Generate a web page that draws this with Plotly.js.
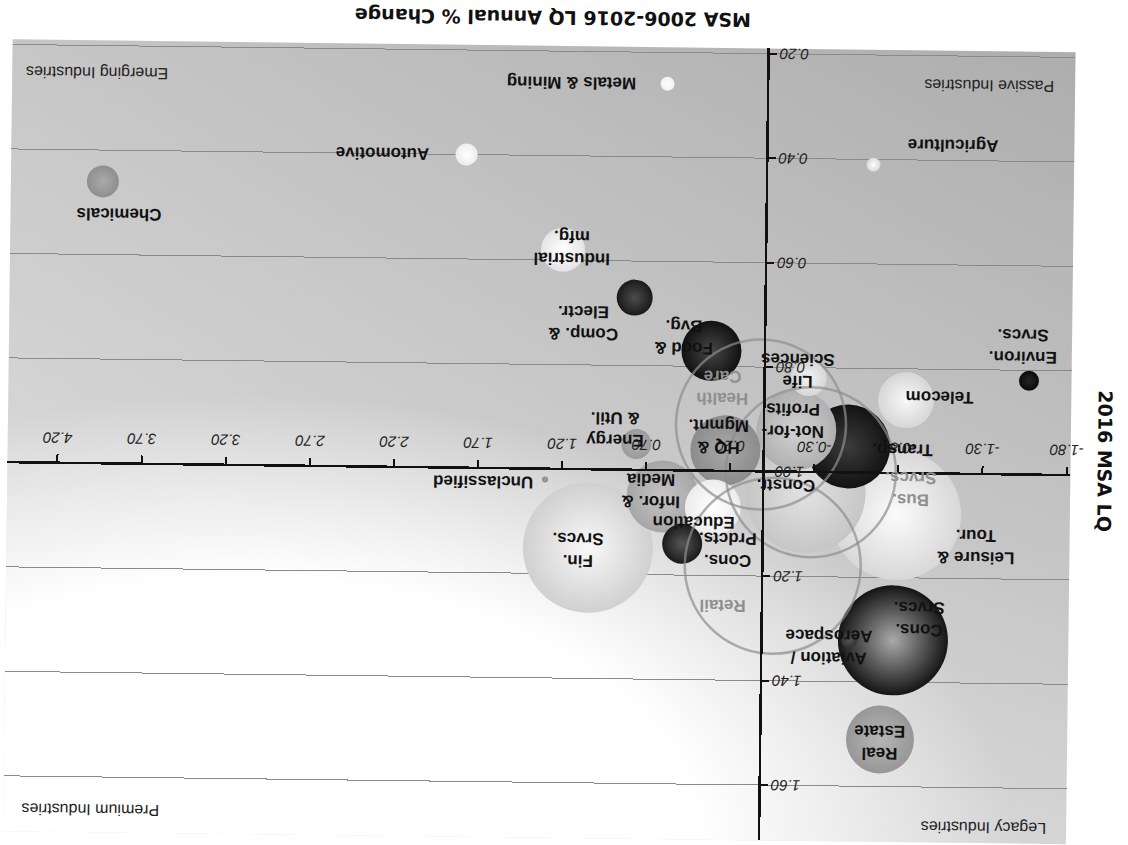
<!DOCTYPE html>
<html>
<head>
<meta charset="utf-8">
<script src="https://cdn.plot.ly/plotly-3.0.1.min.js"></script>
<style>
html,body{margin:0;padding:0;background:#fff;overflow:hidden;width:1128px;height:845px;}
#wrap{position:absolute;left:0;top:0;width:1128px;height:845px;transform:rotate(180.7deg);transform-origin:564px 422.5px;}
#bg{position:absolute;left:57px;top:7px;width:1063px;height:792px;
background:
 radial-gradient(760px 440px at 812px 0px, #ffffff 0%, #ffffff 58%, rgba(255,255,255,0) 100%),
 linear-gradient(to left, rgba(255,255,255,0.2), rgba(0,0,0,0.06)),
 linear-gradient(to top, #b8b8b8 0%, #cbcbcb 50%, #e2e2e2 100%);}
#chart{position:absolute;left:0;top:0;width:1128px;height:845px;}
</style>
</head>
<body>
<div id="wrap"><div id="bg"></div><div id="chart"></div></div>
<script>
// ---- data ----
const industries = ["Leisure &<br>Tour.","Fin.<br>Srvcs.","Constr.","Cons.<br>Srvcs.","Transp.","Not-for-<br>Profits",
  "Infor. &<br>Media","HQ &<br>Mgmnt.","Real<br>Estate","Food &<br>Bvg.","Telecom","Education","Industrial<br>mfg.",
  "Cons.<br>Prdcts.","Comp. &<br>Electr.","Life<br>Sciences","Chemicals","Energy<br>& Util.","Automotive",
  "Environ.<br>Srvcs.","Aviation /<br>Aerospace","Metals & Mining","Agriculture","Unclassified"];
const lqChange = [-0.79,1.04,-0.25,-0.78,-0.50,-0.19,0.60,0.23,-0.71,0.32,-0.84,0.30,1.21,
  0.48,0.78,-0.26,3.95,0.76,1.79,-1.57,-0.52,0.60,-0.63,1.30];
const lq2016 = [1.08,1.15,1.04,1.32,0.95,0.92,1.05,0.96,1.51,0.77,0.86,1.07,0.58,
  1.14,0.67,0.82,0.46,0.95,0.40,0.82,1.32,0.26,0.41,1.02];
const bubbleSize = [130,130,120,110,84,80,72,70,68,60,56,56,44,40,36,36,32,30,22,20,16,14,14,6];

const outlineIndustries = ["Health<br>Care","Bus.<br>Srvcs.","Retail"];
const outlineChange = [0.02,-0.28,-0.06];
const outlineLQ = [0.91,1.00,1.18];
const outlineSize = [170,170,176];

const xTickVals = [-1.8,-1.3,-0.8,-0.3,0.2,0.7,1.2,1.7,2.2,2.7,3.2,3.7,4.2];
const xTickText = ["-1.80","-1.30","-0.80","-0.30","0.20","0.70","1.20","1.70","2.20","2.70","3.20","3.70","4.20"];
const yTickVals = [0.2,0.4,0.6,0.8,1.0,1.2,1.4,1.6];
const yTickText = ["0.20","0.40","0.60","0.80","1.00","1.20","1.40","1.60"];

const xTitle = "MSA 2006-2016 LQ Annual % Change";
const yTitle = "2016 MSA LQ";

const quadrantNames = ["Emerging Industries","Passive Industries","Legacy Industries","Premium Industries"];
const quadrantX = [3.99,-1.31,-1.33,3.98];
const quadrantY = [0.253,0.256,1.677,1.663];

// ---- styles (not data) ----
const outerColor = ["#d8d8d8","#d0d0d0","#c6c6c6","#151515","#121212","#b0b0b0","#a6a6a6","#8c8c8c","#979797","#111111",
  "#d6d6d6","#ececec","#e4e4e4","#1a1a1a","#1a1a1a","#d6d6d6","#8e8e8e","#9a9a9a","#ededed","#0a0a0a","#333333",
  "#f2f2f2","#d8d8d8","#8a8a8a"];
const innerColor = ["#fbfbfb","#f8f8f8","#e2e2e2","#aaaaaa","#3c3c3c","#d2d2d2","#c4c4c4","#a8a8a8","#b6b6b6","#474747",
  "#f8f8f8","#ffffff","#ffffff","#575757","#4c4c4c","#f2f2f2","#aaaaaa","#b2b2b2","#ffffff","#262626","#555555",
  "#ffffff","#ffffff","#a0a0a0"];
const labelShift = [[-80,31],[10,2],[20,-8],[-26,-22],[-55,2],[3,-10],[12,-6],[7,-14],[0,3],[28,-14],[-33,-4],[19,15],
  [-9,-2],[-45,5],[51,26],[11,-8],[-17,32],[22,-15],[84,0],[6,-35],[20,7],[96,0],[-79,-20],[62,3]];
const outlineShift = [[39,-37],[-100,15],[49,40]];

const filled = {
  type:'scatter', mode:'markers', x:lqChange, y:lq2016, hoverinfo:'skip',
  marker:{size:bubbleSize, sizemode:'diameter', color:outerColor, opacity:1,
    gradient:{type:'radial', color:innerColor}, line:{width:0}}
};
const outlines = {
  type:'scatter', mode:'markers', x:outlineChange, y:outlineLQ, hoverinfo:'skip',
  marker:{size:outlineSize, sizemode:'diameter', color:'rgba(0,0,0,0)', line:{width:2.5, color:'#8e8e8e'}}
};

const annotations = [];
const lblFont = {family:'Liberation Sans, Arial, sans-serif', size:17, weight:'bold', color:'#111'};
industries.forEach((t,i)=>annotations.push({x:lqChange[i], y:lq2016[i], xref:'x', yref:'y', text:t, showarrow:false,
  xshift:labelShift[i][0], yshift:labelShift[i][1], font:lblFont, align:'center'}));
outlineIndustries.forEach((t,i)=>annotations.push({x:outlineChange[i], y:outlineLQ[i], xref:'x', yref:'y', text:t, showarrow:false,
  xshift:outlineShift[i][0], yshift:outlineShift[i][1], font:Object.assign({}, lblFont, {color:'#8f8f8f'}), align:'center'}));
quadrantNames.forEach((t,i)=>annotations.push({x:quadrantX[i], y:quadrantY[i], xref:'x', yref:'y', text:t, showarrow:false,
  font:{family:'Liberation Sans, Arial, sans-serif', size:16, color:'#222'}}));

const titleFont = {family:'DejaVu Sans, Verdana, sans-serif', size:19, weight:'bold', color:'#111'};
annotations.push({xref:'paper', yref:'paper', x:0.492, y:-0.0354, xanchor:'center', yanchor:'middle', showarrow:false,
  text:xTitle, font:titleFont});
annotations.push({xref:'paper', yref:'paper', x:-0.032, y:0.516, xanchor:'center', yanchor:'middle', showarrow:false,
  text:yTitle, font:titleFont, textangle:-90});

const tickFont = {family:'Liberation Sans, Arial, sans-serif', size:15, style:'italic', color:'#222'};

const layout = {
  width:1128, height:845,
  margin:{l:57, r:8, t:7, b:46, pad:0},
  paper_bgcolor:'rgba(0,0,0,0)', plot_bgcolor:'rgba(0,0,0,0)',
  showlegend:false,
  xaxis:{range:[-1.823,4.497], anchor:'free', position:0.5343, showline:true, linecolor:'#111', linewidth:2.5,
    ticks:'outside', ticklen:7, tickwidth:2, tickcolor:'#111', tickmode:'array', tickvals:xTickVals, ticktext:xTickText,
    showgrid:false, zeroline:false, tickfont:tickFont, ticklabelstandoff:4, fixedrange:true},
  yaxis:{range:[0.19,1.706], anchor:'free', position:0.2885, showline:true, linecolor:'#111', linewidth:2.5,
    ticks:'outside', ticklen:7, tickwidth:2, tickcolor:'#111', tickmode:'array', tickvals:yTickVals, ticktext:yTickText,
    showgrid:true, gridcolor:'#8a8a8a', gridwidth:1, zeroline:false, tickfont:tickFont, fixedrange:true},
  annotations:annotations
};

Plotly.newPlot('chart', [filled, outlines], layout, {staticPlot:true, displayModeBar:false});
</script>
</body>
</html>
